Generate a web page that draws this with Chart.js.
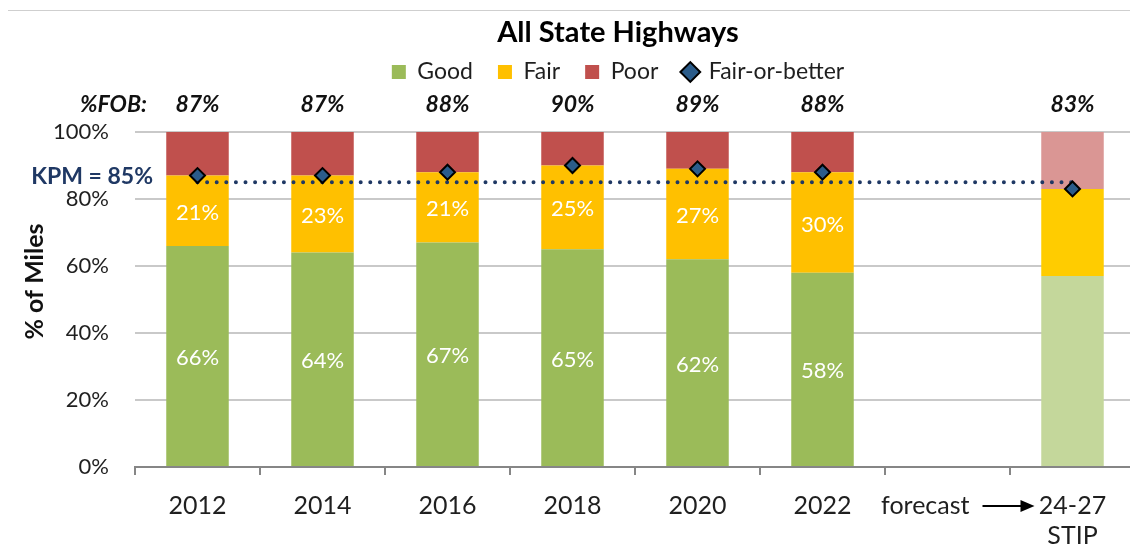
<!DOCTYPE html>
<html>
<head>
<meta charset="utf-8">
<title>All State Highways</title>
<script src="https://cdn.jsdelivr.net/npm/chart.js"></script>
<style>
    html, body { margin: 0; padding: 0; background: #ffffff; overflow: hidden; }
    #wrap { position: relative; width: 1236px; height: 552px; }
    #frame { position: absolute; top: 10px; left: 8px; width: 1228px; border-top: 1px solid #cfcfcf; }
</style>
</head>
<body>
<div id="wrap">
    <div id="frame"></div>
    <canvas id="pavement-chart"></canvas>
</div>
<script>
const FONT = 'Lato, "DejaVu Sans", sans-serif';

// x categories ('' is the empty forecast slot)
const categories = ['2012', '2014', '2016', '2018', '2020', '2022', '', ['24-27', 'STIP']];
const forecastNote = 'forecast';

// % of miles by condition
const good = [66, 64, 67, 65, 62, 58, null, 57];
const fair = [21, 23, 21, 25, 27, 30, null, 26];
const poor = [13, 13, 12, 10, 11, 12, null, 17];

// fair-or-better and the KPM target line
const fob = [87, 87, 88, 90, 89, 88, null, 83];
const kpm = [85, 85, 85, 85, 85, 85, 85, 85];
const kpmLabel = 'KPM = 85%';
const fobTitle = '%FOB:';

const yTicks = [0, 20, 40, 60, 80, 100];

const lastIdx = categories.length - 1;
const colorsFor = (normal, light) => categories.map((_, i) => (i === lastIdx ? light : normal));

const COLORS = {
    good: '#9BBB59',
    fair: '#FFC000',
    poor: '#C0504D',
    fobFill: '#2B5C8A',
    kpm: '#1F3864',
    text: '#1F1F1F'
};

const annotations = {
    id: 'annotations',
    afterDatasetsDraw(chart) {
        const { ctx, chartArea, scales: { x, y } } = chart;
        ctx.save();

        // white value labels inside Good and Fair segments (not the forecast bar)
        ctx.font = `22px ${FONT}`;
        ctx.fillStyle = '#ffffff';
        ctx.textAlign = 'center';
        ctx.textBaseline = 'middle';
        [0, 1].forEach((di) => {
            const values = chart.data.datasets[di].data;
            chart.getDatasetMeta(di).data.forEach((bar, i) => {
                if (values[i] == null || i === lastIdx) return;
                const c = bar.getCenterPoint();
                ctx.fillText(`${values[i]}%`, c.x, c.y + 2);
            });
        });

        // %FOB: row caption
        ctx.fillStyle = '#111111';
        ctx.textAlign = 'right';
        ctx.font = `italic bold 23px ${FONT}`;
        ctx.fillText(fobTitle, 147, chartArea.top - 27);

        // KPM caption
        ctx.fillStyle = COLORS.kpm;
        ctx.font = `bold 23px ${FONT}`;
        ctx.fillText(kpmLabel, 153, y.getPixelForValue(85) - 6);

        // forecast note with arrow
        const c6 = x.getPixelForValue(6);
        const c7 = x.getPixelForValue(7);
        const ty = chartArea.bottom + 39;
        ctx.fillStyle = COLORS.text;
        ctx.font = `25px ${FONT}`;
        ctx.fillText(forecastNote, c6 + 22, ty);
        ctx.strokeStyle = '#000000';
        ctx.lineWidth = 2;
        ctx.beginPath();
        ctx.moveTo(c6 + 35, ty);
        ctx.lineTo(c7 - 50, ty);
        ctx.stroke();
        ctx.fillStyle = '#000000';
        ctx.beginPath();
        ctx.moveTo(c7 - 52, ty - 6);
        ctx.lineTo(c7 - 38, ty);
        ctx.lineTo(c7 - 52, ty + 6);
        ctx.closePath();
        ctx.fill();

        // y axis title
        ctx.translate(35, (chartArea.top + chartArea.bottom) / 2 - 18);
        ctx.rotate(-Math.PI / 2);
        ctx.textAlign = 'center';
        ctx.fillStyle = '#111111';
        ctx.font = `bold 25px ${FONT}`;
        ctx.fillText('% of Miles', 0, 0);

        ctx.restore();
    }
};

const legendItems = () => [
    { text: 'Good', fillStyle: COLORS.good, strokeStyle: COLORS.good, lineWidth: 0, pointStyle: 'rect', datasetIndex: 0, fontColor: COLORS.text },
    { text: 'Fair', fillStyle: COLORS.fair, strokeStyle: COLORS.fair, lineWidth: 0, pointStyle: 'rect', datasetIndex: 1, fontColor: COLORS.text },
    { text: 'Poor', fillStyle: COLORS.poor, strokeStyle: COLORS.poor, lineWidth: 0, pointStyle: 'rect', datasetIndex: 2, fontColor: COLORS.text },
    { text: 'Fair-or-better', fillStyle: COLORS.fobFill, strokeStyle: '#000000', lineWidth: 2, pointStyle: 'rectRot', datasetIndex: 3, fontColor: COLORS.text }
];

Chart.defaults.font.family = FONT;

const ctx = document.getElementById('pavement-chart').getContext('2d');
new Chart(ctx, {
    type: 'bar',
    data: {
        labels: categories,
        datasets: [
            { label: 'Good', data: good, backgroundColor: colorsFor(COLORS.good, '#C4D79B'), stack: 'bars', order: 3 },
            { label: 'Fair', data: fair, backgroundColor: colorsFor(COLORS.fair, '#FFCC00'), stack: 'bars', order: 3 },
            { label: 'Poor', data: poor, backgroundColor: colorsFor(COLORS.poor, '#DA9694'), stack: 'bars', order: 3 },
            {
                type: 'line', label: 'Fair-or-better', data: fob, stack: 'fob', order: 1,
                showLine: false, pointStyle: 'rectRot', pointRadius: 7.5, pointHoverRadius: 7.5,
                pointBackgroundColor: COLORS.fobFill, pointBorderColor: '#000000', pointBorderWidth: 2
            },
            {
                type: 'line', label: 'KPM', data: kpm, stack: 'kpm', order: 2,
                borderColor: COLORS.kpm, borderWidth: 4, borderDash: [0, 9.6], borderCapStyle: 'round',
                pointRadius: 0, fill: false
            }
        ]
    },
    options: {
        responsive: true,
        maintainAspectRatio: false,
        animation: false,
        datasets: { bar: { barPercentage: 0.5, categoryPercentage: 1, borderWidth: 0 } },
        layout: { padding: { top: 0, left: 0, right: 0, bottom: 1 } },
        plugins: {
            title: {
                display: true,
                text: 'All State Highways',
                color: '#000000',
                font: { size: 29, weight: 'bold', lineHeight: 1 },
                padding: { top: 18.5, bottom: -12 }
            },
            legend: {
                display: true,
                labels: {
                    usePointStyle: true,
                    boxWidth: 14,
                    boxHeight: 14,
                    padding: 25,
                    color: COLORS.text,
                    font: { size: 23 },
                    generateLabels: legendItems
                },
                onClick: null
            },
            tooltip: { enabled: false }
        },
        scales: {
            x: {
                stacked: true,
                offset: true,
                afterFit: (scale) => { scale.height = 84; },
                grid: { display: true, drawOnChartArea: false, drawTicks: true, tickLength: 8, offset: true, color: '#868686', lineWidth: 2 },
                border: { display: true, color: '#868686', width: 2 },
                ticks: { color: COLORS.text, font: { size: 25, lineHeight: 1.2 }, padding: 16, maxRotation: 0, autoSkip: false }
            },
            x2: {
                type: 'category',
                position: 'top',
                labels: fob.map((v) => (v == null ? '' : `${v}%`)),
                offset: true,
                afterFit: (scale) => { scale.height = 38.5; },
                grid: { display: false, drawTicks: false },
                border: { display: false },
                ticks: { color: '#111111', font: { size: 23, style: 'italic', weight: 'bold', lineHeight: 1 }, padding: 15.5, maxRotation: 0, autoSkip: false }
            },
            y: {
                stacked: true,
                min: 0,
                max: 100,
                afterFit: (scale) => { scale.width = 135; },
                afterBuildTicks: (scale) => { scale.ticks = yTicks.map((v) => ({ value: v })); },
                grid: { drawTicks: false, color: (c) => (c.tick && c.tick.value === 0 ? '#868686' : '#C9C9C9'), lineWidth: 2 },
                border: { display: false },
                ticks: { color: COLORS.text, font: { size: 22 }, padding: 26, callback: (v) => `${v}%` }
            },
            y2: {
                position: 'right',
                display: true,
                afterFit: (scale) => { scale.width = 101; },
                grid: { display: false, drawTicks: false },
                border: { display: false },
                ticks: { display: false }
            }
        }
    },
    plugins: [annotations]
});
</script>
</body>
</html>
